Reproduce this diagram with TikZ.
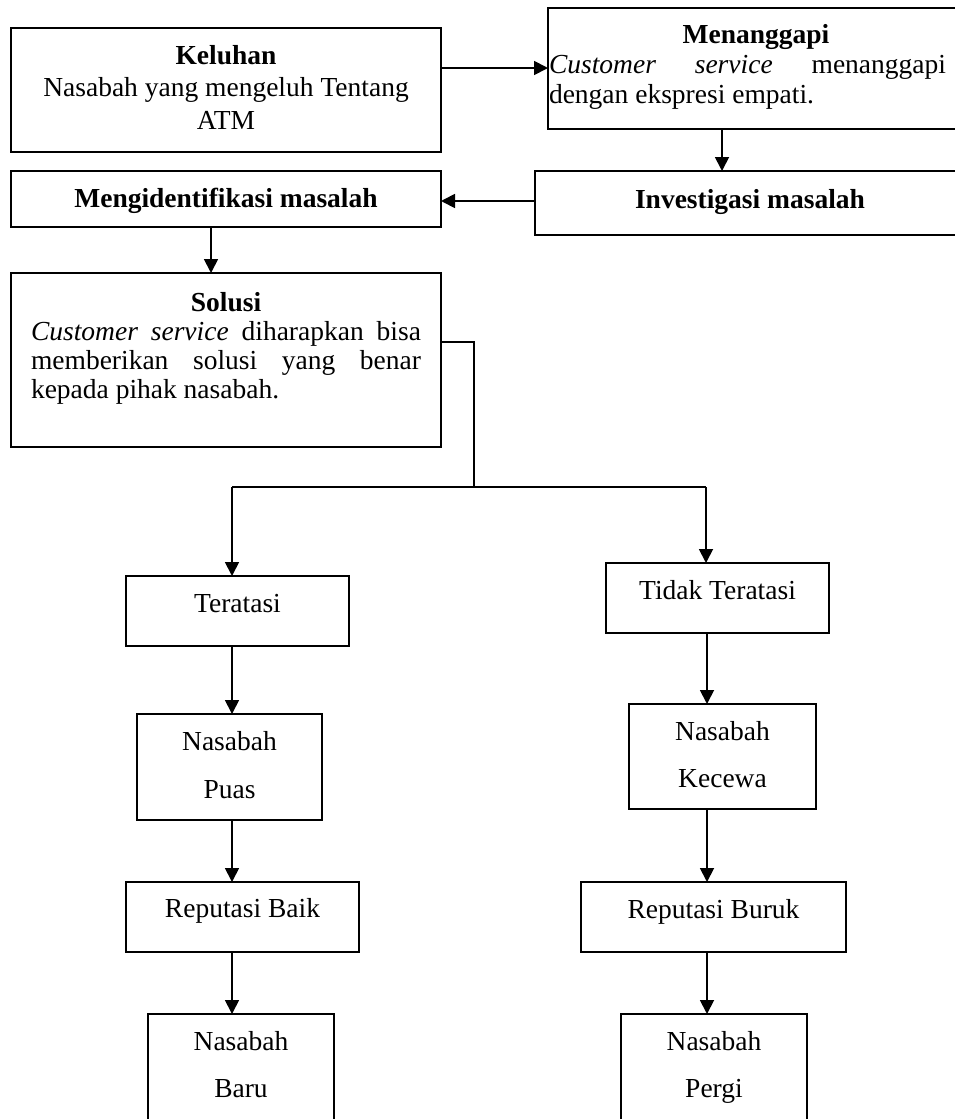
\documentclass[tikz,border=0pt]{standalone}
\usepackage{fontspec}
\setmainfont{Liberation Serif}
\usetikzlibrary{arrows.meta}
\tikzset{
  box/.style={draw, line width=2pt, rectangle, inner sep=0pt, outer sep=0pt},
  txt/.style={inner sep=0pt, outer sep=0pt, anchor=base, align=center,
              font=\fontsize{27.5}{32.5}\selectfont},
  ln/.style={line width=1.8pt},
  arr/.style={ln, -{Triangle[length=14pt,width=14pt]}},
}
\begin{document}
\begin{tikzpicture}[x=1pt,y=-1pt]
\useasboundingbox (0,0) rectangle (955,1119);

% boxes
\node[box, minimum width=430pt, minimum height=124pt] (keluhan) at (226,90) {};
\node[box, minimum width=417pt, minimum height=121pt] (menang) at (756.5,68.5) {};
\node[box, minimum width=430pt, minimum height=56pt] (ident) at (226,199) {};
\node[box, minimum width=430pt, minimum height=64pt] (invest) at (750,203) {};
\node[box, minimum width=430pt, minimum height=174pt] (solusi) at (226,360) {};
\node[box, minimum width=223pt, minimum height=70pt] (teratasi) at (237.5,611) {};
\node[box, minimum width=185pt, minimum height=106pt] (puas) at (229.5,767) {};
\node[box, minimum width=223pt, minimum height=70pt] (tidak) at (717.5,598) {};
\node[box, minimum width=187pt, minimum height=105pt] (kecewa) at (722.5,756.5) {};
\node[box, minimum width=233pt, minimum height=70pt] (baik) at (242.5,917) {};
\node[box, minimum width=265pt, minimum height=70pt] (buruk) at (713.5,917) {};
\node[box, minimum width=186pt, minimum height=122pt] (baru) at (241,1075) {};
\node[box, minimum width=186pt, minimum height=122pt] (pergi) at (714,1075) {};

% texts (base anchor of a multi-line node = baseline of its last line)
\node[txt] (tkeluhan) at (226,129) {\textbf{Keluhan}\\Nasabah yang mengeluh Tentang\\ATM};
\node[txt] (tmenang1) at (756,43) {\textbf{Menanggapi}};
\node[txt, anchor=base west, align=left, font=\fontsize{27.5}{30}\selectfont] (tmenang2) at (549,103)
  {\hbox to 397pt{\textit{Customer service} menanggapi}\\dengan ekspresi empati.};
\node[txt] (tident) at (226,207) {\textbf{Mengidentifikasi masalah}};
\node[txt] (tinvest) at (750,208) {\textbf{Investigasi masalah}};
\node[txt] (tsolusi1) at (226,311) {\textbf{Solusi}};
\node[txt, anchor=base west, align=left, font=\fontsize{27.5}{29}\selectfont] (tsolusi2) at (31,398)
  {\hbox to 390pt{\textit{Customer service} diharapkan bisa}\\
   \hbox to 390pt{memberikan solusi yang benar}\\
   kepada pihak nasabah.};
\node[txt] (tteratasi) at (237.5,612) {Teratasi};
\node[txt, font=\fontsize{27.5}{48}\selectfont] (tpuas) at (229.5,798) {Nasabah\\Puas};
\node[txt] (ttidak) at (717.5,599) {Tidak Teratasi};
\node[txt, font=\fontsize{27.5}{47}\selectfont] (tkecewa) at (722.5,787) {Nasabah\\Kecewa};
\node[txt] (tbaik) at (242.5,917) {Reputasi Baik};
\node[txt] (tburuk) at (713.5,918) {Reputasi Buruk};
\node[txt, font=\fontsize{27.5}{47}\selectfont] (tbaru) at (241,1097) {Nasabah\\Baru};
\node[txt, font=\fontsize{27.5}{47}\selectfont] (tpergi) at (714,1097) {Nasabah\\Pergi};

% helper coordinates
\coordinate (ay) at (0,68);
\coordinate (by) at (0,201);
\coordinate (sy) at (0,342);
\coordinate (cx1) at (722,0);
\coordinate (cx2) at (211,0);
\coordinate (j1) at (474,342);
\coordinate (j2) at (474,487);
\coordinate (bl) at (232,487);
\coordinate (br) at (706,487);
\coordinate (colL) at (232,0);
\coordinate (colR) at (707,0);

% connectors
\draw[arr] (keluhan.east |- ay) -- (menang.west |- ay);
\draw[arr] (menang.south -| cx1) -- (invest.north -| cx1);
\draw[arr] (invest.west |- by) -- (ident.east |- by);
\draw[arr] (ident.south -| cx2) -- (solusi.north -| cx2);
\draw[ln] (solusi.east |- sy) -- (j1) -- (j2);
\draw[ln] (bl) -- (br);
\draw[arr] (bl) -- (teratasi.north -| bl);
\draw[arr] (br) -- (tidak.north -| br);
\draw[arr] (teratasi.south -| colL) -- (puas.north -| colL);
\draw[arr] (puas.south -| colL) -- (baik.north -| colL);
\draw[arr] (baik.south -| colL) -- (baru.north -| colL);
\draw[arr] (tidak.south -| colR) -- (kecewa.north -| colR);
\draw[arr] (kecewa.south -| colR) -- (buruk.north -| colR);
\draw[arr] (buruk.south -| colR) -- (pergi.north -| colR);
\end{tikzpicture}
\end{document}
